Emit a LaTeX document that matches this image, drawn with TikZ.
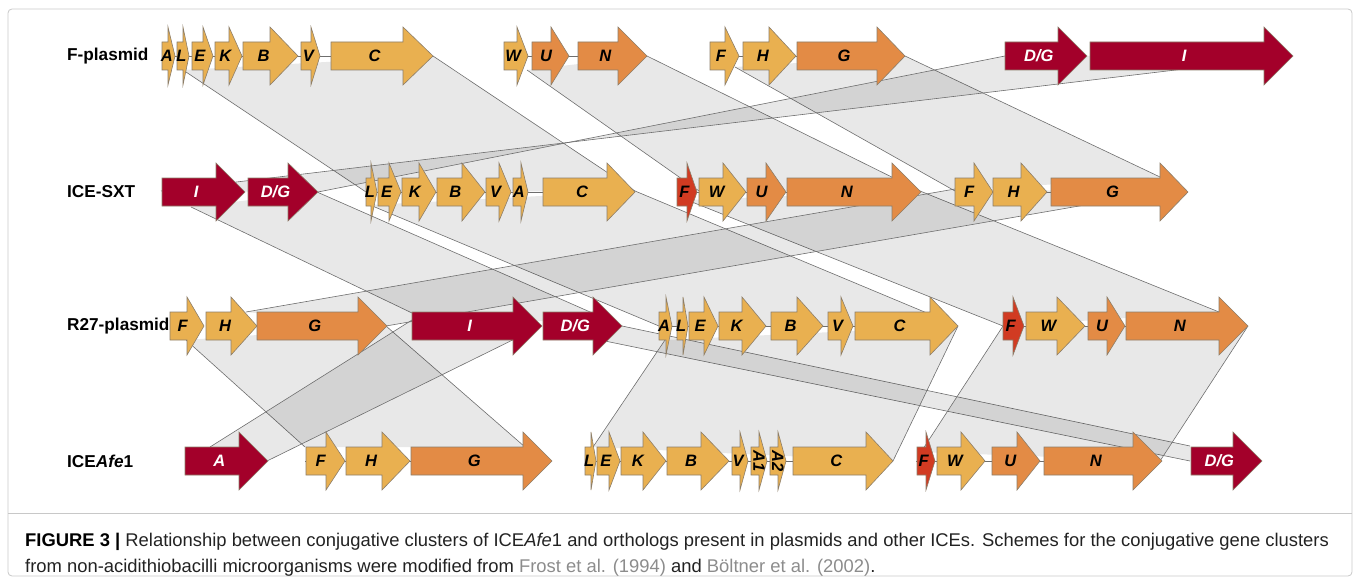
\documentclass[tikz,border=0pt]{standalone}
\usepackage{fontspec}
\setmainfont{Liberation Sans}
\definecolor{cLO}{HTML}{E9B050}
\definecolor{cDO}{HTML}{E38B45}
\definecolor{cDR}{HTML}{A3002A}
\definecolor{cRF}{HTML}{D13B22}
\definecolor{cEdge}{HTML}{8C7E6A}
\definecolor{cBand}{HTML}{6E6E6E}
\definecolor{cRef}{HTML}{8C8C8C}
\definecolor{cFrame}{HTML}{C8C8C8}
\definecolor{cCap}{HTML}{222222}
\tikzset{
  genebox/.style={draw=cEdge, line width=0.6pt, line join=miter},
  gLO/.style={fill=cLO}, gDO/.style={fill=cDO}, gDR/.style={fill=cDR}, gRF/.style={fill=cRF},
  tLO/.style={text=black}, tDO/.style={text=black}, tDR/.style={text=white}, tRF/.style={text=black},
  glabel/.style={font=\fontsize{16.5}{16.5}\selectfont\bfseries\itshape, inner sep=0pt},
  rowlabel/.style={font=\fontsize{17.2}{17.2}\selectfont\bfseries, anchor=west, inner sep=0pt},
  bandfill/.style={fill=black, fill opacity=0.09},
  bandline/.style={draw=cBand, line width=0.6pt},
  backbone/.style={draw=cBand, line width=0.6pt},
}
% #1 name, #2 x1, #3 xh, #4 x2, #5 yc, #6 kind, #7 label
\newcommand{\gene}[7]{%
  \draw[genebox, g#6] (#2,#5-14) -- (#3,#5-14) -- (#3,#5-29) -- (#4,#5) -- (#3,#5+29) -- (#3,#5+14) -- (#2,#5+14) -- cycle;
  \node[glabel, t#6] (#1) at ({(#2+#3)/2+(#4-#3)/4},#5) {#7};
}
% band: upper-left, upper-right, lower-right, lower-left
\newcommand{\band}[4]{%
  \fill[bandfill] #1 -- #2 -- #3 -- #4 -- cycle;
  \draw[bandline] #1 -- #4;
  \draw[bandline] #2 -- #3;
}
\begin{document}
\begin{tikzpicture}[x=1pt,y=-1pt]
\useasboundingbox (0,0) rectangle (1360,583);
\draw[cFrame, line width=0.8pt, rounded corners=4pt] (8,9) rectangle (1352,576);

% ---------- bands row1-row2
\band{(183,70)}{(433,56)}{(635,191)}{(366,192)}
\band{(527,70)}{(647,56)}{(920,191)}{(699,191)}
\band{(735,67)}{(905,56)}{(1160,177)}{(955,191)}
% D/G-I <-> I-D/G (inverted block)
\band{(1005,56)}{(1293,56)}{(161,191)}{(318,192)}
% ---------- bands row2-row3
\band{(191,207)}{(317,192)}{(622,326)}{(412,313)}
\band{(370,205)}{(635,191)}{(958,326)}{(659,326)}
\band{(687,200)}{(920,191)}{(1219,312)}{(1003,326)}
\band{(955,189)}{(1160,192)}{(386,326)}{(246,312)}
% ---------- bands row3-row4
\band{(186,340)}{(386,326)}{(525,447)}{(305,447)}
\band{(412,320)}{(541,326)}{(267,461)}{(210,447)}
\band{(600,340)}{(622,326)}{(1190,446)}{(1190,461)}
\band{(665,340)}{(958,326)}{(893,461)}{(593,447)}
\band{(1003,326)}{(1248,326)}{(1160,461)}{(921,452)}

% ---------- backbone lines
\draw[backbone] (162,56) -- (433,56);
\draw[backbone] (504,56) -- (647,56);
\draw[backbone] (710,56) -- (905,56);
\draw[backbone] (366,192) -- (635,192);
\draw[backbone] (677,192) -- (920,192);
\draw[backbone] (955,192) -- (1188,192);
\draw[backbone] (659,326) -- (958,326);
\draw[backbone] (1003,326) -- (1248,326);
\draw[backbone] (305,461) -- (551,461);
\draw[backbone] (585,461) -- (893,461);
\draw[backbone] (916,461) -- (1161,461);

% ---------- row 1: F-plasmid
\node[rowlabel] (r1) at (67,56) {F-plasmid};
\gene{a1A}{162}{168}{175}{56}{LO}{A}
\gene{a1L}{177}{183}{189}{56}{LO}{L}
\gene{a1E}{192}{203}{213}{56}{LO}{E}
\gene{a1K}{215}{229}{242}{56}{LO}{K}
\gene{a1B}{243}{270}{298}{56}{LO}{B}
\gene{a1V}{301}{311}{320}{56}{LO}{V}
\gene{a1C}{331}{403}{433}{56}{LO}{C}
\gene{a1W}{504}{517}{528}{56}{LO}{W}
\gene{a1U}{532}{551}{569}{56}{DO}{U}
\gene{a1N}{578}{618}{647}{56}{DO}{N}
\gene{a1F}{710}{725}{739}{56}{LO}{F}
\gene{a1H}{743}{769}{796}{56}{LO}{H}
\gene{a1G}{797}{877}{905}{56}{DO}{G}
\gene{a1D}{1005}{1058}{1087}{56}{DR}{D/G}
\gene{a1I}{1090}{1264}{1293}{56}{DR}{I}

% ---------- row 2: ICE-SXT
\node[rowlabel] (r2) at (67,192) {ICE-SXT};
\gene{a2I}{162}{216}{245}{192}{DR}{I}
\gene{a2D}{248}{288}{318}{192}{DR}{D/G}
\gene{a2L}{366}{371}{377}{192}{LO}{L}
\gene{a2E}{378}{389}{401}{192}{LO}{E}
\gene{a2K}{402}{419}{436}{192}{LO}{K}
\gene{a2B}{437}{462}{485}{192}{LO}{B}
\gene{a2V}{486}{499}{511}{192}{LO}{V}
\gene{a2A}{513}{521}{528}{192}{LO}{A}
\gene{a2C}{543}{607}{635}{192}{LO}{C}
\gene{a2F}{677}{687}{697}{192}{RF}{F}
\gene{a2W}{699}{723}{746}{192}{LO}{W}
\gene{a2U}{747}{766}{786}{192}{DO}{U}
\gene{a2N}{787}{892}{921}{192}{DO}{N}
\gene{a2F2}{955}{974}{993}{192}{LO}{F}
\gene{a2H}{993}{1021}{1047}{192}{LO}{H}
\gene{a2G}{1051}{1160}{1188}{192}{DO}{G}

% ---------- row 3: R27-plasmid
\node[rowlabel] (r3) at (67,326) {R27-plasmid};
\gene{a3F}{170}{187}{204}{326}{LO}{F}
\gene{a3H}{206}{231}{257}{326}{LO}{H}
\gene{a3G}{257}{358}{387}{326}{DO}{G}
\gene{a3I}{412}{513}{542}{326}{DR}{I}
\gene{a3D}{543}{593}{622}{326}{DR}{D/G}
\gene{a3A}{659}{666}{672}{326}{LO}{A}
\gene{a3L}{677}{683}{688}{326}{LO}{L}
\gene{a3E}{689}{704}{718}{326}{LO}{E}
\gene{a3K}{719}{742}{766}{326}{LO}{K}
\gene{a3B}{771}{797}{823}{326}{LO}{B}
\gene{a3V}{828}{841}{853}{326}{LO}{V}
\gene{a3C}{855}{930}{958}{326}{LO}{C}
\gene{a3F2}{1003}{1013}{1024}{326}{RF}{F}
\gene{a3W}{1026}{1057}{1085}{326}{LO}{W}
\gene{a3U}{1088}{1107}{1125}{326}{DO}{U}
\gene{a3N}{1126}{1219}{1248}{326}{DO}{N}

% ---------- row 4: ICEAfe1
\node[rowlabel] (r4) at (67,461) {ICE\textit{Afe}1};
\gene{a4A}{185}{239}{268}{461}{DR}{A}
\gene{a4F}{306}{326}{345}{461}{LO}{F}
\gene{a4H}{346}{382}{410}{461}{LO}{H}
\gene{a4G}{411}{523}{552}{461}{DO}{G}
\gene{a4L}{585}{591}{596}{461}{LO}{L}
\gene{a4E}{597}{609}{620}{461}{LO}{E}
\gene{a4K}{621}{643}{666}{461}{LO}{K}
\gene{a4B}{667}{701}{729}{461}{LO}{B}
\gene{a4V}{732}{740}{748}{461}{LO}{V}
\gene{a4A1}{751}{759}{767}{461}{LO}{}
\gene{a4A2}{770}{778}{786}{461}{LO}{}
\node[glabel, rotate=-90] (a4A1t) at (759,461) {A1};
\node[glabel, rotate=-90] (a4A2t) at (778,461) {A2};
\gene{a4C}{793}{866}{893}{461}{LO}{C}
\gene{a4F2}{917}{926}{935}{461}{RF}{F}
\gene{a4W}{937}{961}{985}{461}{LO}{W}
\gene{a4U}{992}{1017}{1040}{461}{DO}{U}
\gene{a4N}{1044}{1133}{1162}{461}{DO}{N}
\gene{a4D}{1191}{1233}{1262}{461}{DR}{D/G}

% ---------- caption
\draw[cFrame, line width=0.6pt] (8,513) -- (1352,513);
\node[anchor=base west, inner sep=0pt, text=cCap, font=\fontsize{18.4}{20}\selectfont] (cap1) at (25,546)
  {\textcolor{black}{\textbf{FIGURE 3 |}} Relationship between conjugative clusters of ICE\textit{Afe}1 and orthologs present in plasmids and other ICEs. Schemes for the conjugative gene clusters};
\node[anchor=base west, inner sep=0pt, text=cCap, font=\fontsize{18.4}{20}\selectfont] (cap2) at (25,572)
  {from non-acidithiobacilli microorganisms were modified from \textcolor{cRef}{Frost et al. (1994)} and \textcolor{cRef}{Böltner et al. (2002)}.};
\end{tikzpicture}
\end{document}
